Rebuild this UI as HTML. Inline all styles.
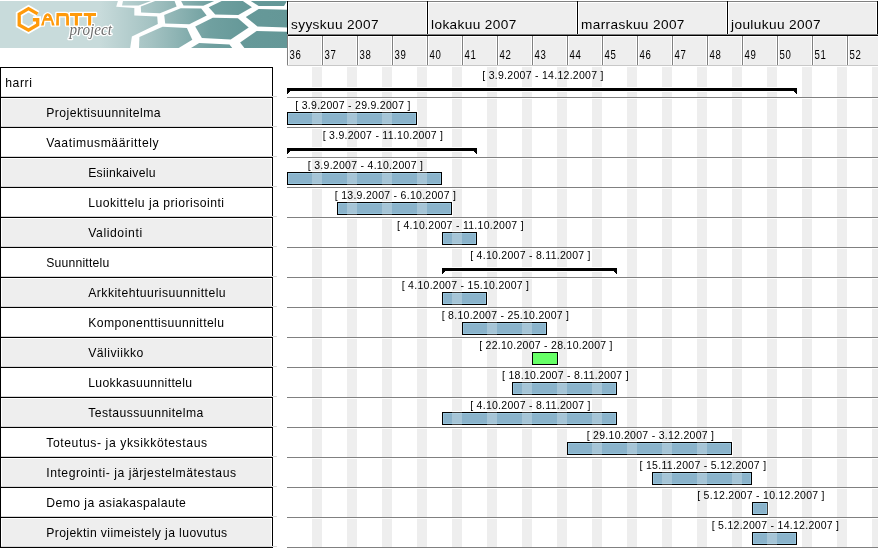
<!DOCTYPE html>
<html><head><meta charset="utf-8"><style>
html,body{margin:0;padding:0;background:#fff;width:878px;height:549px;overflow:hidden}
svg text{font-family:"Liberation Sans",sans-serif;fill:#000}
.lbl{font-size:10.5px;letter-spacing:0.28px}
.mon{font-size:13.6px;letter-spacing:0.4px}
.wk{font-size:9.6px;letter-spacing:0.8px}
.nm{font-size:12.2px}
</style></head><body>
<svg width="878" height="549" viewBox="0 0 878 549" style="display:block;will-change:transform">
<g shape-rendering="crispEdges">

</g>

<svg x="0" y="0" width="287" height="48" viewBox="0 0 287 48">
 <defs>
  <linearGradient id="bg" x1="0" y1="0" x2="287" y2="0" gradientUnits="userSpaceOnUse">
   <stop offset="0" stop-color="#c8dbdb"/>
   <stop offset="0.348" stop-color="#c8dbdb"/>
   <stop offset="0.523" stop-color="#a5c3c3"/>
   <stop offset="0.732" stop-color="#70a0a0"/>
   <stop offset="0.85" stop-color="#669999"/>
   <stop offset="1" stop-color="#649797"/>
  </linearGradient>
 </defs>
 <rect x="0" y="1" width="287" height="47" fill="#ffffff"/>
 <g fill="url(#bg)">
  <polygon points="0,1 117.9,1 116.2,6.8 134.3,7.9 134.3,15.4 157.2,16.4 157.8,24.1 131.9,36.4 130.2,48 0,48"/>
  <polygon points="123,1 151,1 138.7,5.5 122,5.5"/>
  <polygon points="140.8,6.5 155.1,1 174.6,1 176.6,6.5 159.9,13.3 141.1,12.6"/>
  <polygon points="164.2,15 180.7,8.2 201.2,8.5 206.7,15.4 189.3,24.2 165.2,23.4"/>
  <polygon points="181.1,1 214.2,1 203.3,5.8 183.5,5.5"/>
  <polygon points="208.7,7.2 221.7,1 242.9,1 251.9,7.2 238.3,15.1 215.2,14.4"/>
  <polygon points="250.8,1 287,1 284,6.1 258.7,6.1"/>
  <polygon points="245.8,16.9 258.7,9 287,9.7 287,27.6 257.5,26.5"/>
  <polygon points="139.4,37.1 162.6,26.8 186.9,28.1 192.3,39.8 178.7,48 139,48"/>
  <polygon points="195.2,26.4 212.8,17.8 237.9,18.3 248.7,27.6 230.7,39.4 201.9,38.1"/>
  <polygon points="191,48 199.2,42.9 229.5,44.6 232.2,48"/>
  <polygon points="240.1,42.6 256.6,31.1 287,31.8 287,48 244.4,48"/>
 </g>
 <g fill="none" stroke="#ffffff" stroke-width="6.8" stroke-linejoin="miter" stroke-miterlimit="3">
  <path d="M37.6,13.9 L28.5,8.6 L19.2,14.1 L19.2,25 L28.5,30.1 L37.7,24.8 L37.7,19.75 L32.9,19.75"/>
 </g>
 <path d="M37.6,13.9 L28.5,8.6 L19.2,14.1 L19.2,25 L28.5,30.1 L37.7,24.8 L37.7,19.75 L32.9,19.75" fill="none" stroke="#ff9a0a" stroke-width="3.3" stroke-linejoin="miter"/>
 <g fill="#ff9a0a" stroke="#ffffff" stroke-width="2.6" stroke-linejoin="round" style="paint-order:stroke">
  <path fill-rule="evenodd" d="M41,25.5 L44.4,15.4 Q47.7,11.3 51.1,15.4 L54.7,25.5 L51.9,25.5 L51.1,20.8 L44.4,20.8 L43.7,25.5 Z M46.1,18 L47.7,15.5 L49.3,18 Z"/>
  <path d="M56.1,25.5 L56.5,13 L65.3,13 Q68.8,13 68.9,16.2 L69,25.5 L66.2,25.5 L66.1,16.2 L58.9,16.2 L58.9,25.5 Z"/>
  <path d="M70,13 L82.2,13 L82.2,15.9 L77.9,15.9 L77.9,25.5 L74.8,25.5 L74.8,15.9 L70,15.9 Z"/>
  <path d="M83.8,13 L96,13 L96,15.9 L91.2,15.9 L91.2,25.5 L88.1,25.5 L88.1,15.9 L83.8,15.9 Z"/>
 </g>
 <text x="69.5" y="35.3" transform="translate(69.5,35.3) scale(0.95,1) translate(-69.5,-35.3)" style="font-family:'Liberation Serif',serif;font-style:italic;font-size:16px;fill:#6e6e6e;stroke:#ffffff;stroke-width:2.6px;paint-order:stroke;stroke-linejoin:round">project</text>
</svg>

<g shape-rendering="crispEdges">
<rect x="287" y="1" width="591" height="1" fill="#808080"/>
<rect x="287" y="2" width="591" height="32" fill="#ffffff"/>
<rect x="289" y="3" width="137" height="31" fill="#eeeeee"/>
<rect x="429" y="3" width="147" height="31" fill="#eeeeee"/>
<rect x="579" y="3" width="147" height="31" fill="#eeeeee"/>
<rect x="729" y="3" width="147" height="31" fill="#eeeeee"/>
<rect x="287" y="1" width="1" height="33" fill="#000000"/>
<rect x="427" y="1" width="1" height="33" fill="#000000"/>
<rect x="577" y="1" width="1" height="33" fill="#000000"/>
<rect x="727" y="1" width="1" height="33" fill="#000000"/>
<rect x="877" y="1" width="1" height="34" fill="#000000"/>
<rect x="287" y="34" width="591" height="1" fill="#808080"/>
<rect x="288" y="35" width="590" height="1" fill="#000000"/>
<rect x="287" y="36" width="591" height="29" fill="#ffffff"/>
<rect x="289" y="37" width="32" height="28" fill="#eeeeee"/>
<rect x="324" y="37" width="32" height="28" fill="#eeeeee"/>
<rect x="359" y="37" width="32" height="28" fill="#eeeeee"/>
<rect x="394" y="37" width="32" height="28" fill="#eeeeee"/>
<rect x="429" y="37" width="32" height="28" fill="#eeeeee"/>
<rect x="464" y="37" width="32" height="28" fill="#eeeeee"/>
<rect x="499" y="37" width="32" height="28" fill="#eeeeee"/>
<rect x="534" y="37" width="32" height="28" fill="#eeeeee"/>
<rect x="569" y="37" width="32" height="28" fill="#eeeeee"/>
<rect x="604" y="37" width="32" height="28" fill="#eeeeee"/>
<rect x="639" y="37" width="32" height="28" fill="#eeeeee"/>
<rect x="674" y="37" width="32" height="28" fill="#eeeeee"/>
<rect x="709" y="37" width="32" height="28" fill="#eeeeee"/>
<rect x="744" y="37" width="32" height="28" fill="#eeeeee"/>
<rect x="779" y="37" width="32" height="28" fill="#eeeeee"/>
<rect x="814" y="37" width="32" height="28" fill="#eeeeee"/>
<rect x="849" y="37" width="32" height="28" fill="#eeeeee"/>
<rect x="287" y="34" width="1" height="32" fill="#808080"/>
<rect x="322" y="36" width="1" height="30" fill="#808080"/>
<rect x="357" y="36" width="1" height="30" fill="#808080"/>
<rect x="392" y="36" width="1" height="30" fill="#808080"/>
<rect x="427" y="36" width="1" height="30" fill="#808080"/>
<rect x="462" y="36" width="1" height="30" fill="#808080"/>
<rect x="497" y="36" width="1" height="30" fill="#808080"/>
<rect x="532" y="36" width="1" height="30" fill="#808080"/>
<rect x="567" y="36" width="1" height="30" fill="#808080"/>
<rect x="602" y="36" width="1" height="30" fill="#808080"/>
<rect x="637" y="36" width="1" height="30" fill="#808080"/>
<rect x="672" y="36" width="1" height="30" fill="#808080"/>
<rect x="707" y="36" width="1" height="30" fill="#808080"/>
<rect x="742" y="36" width="1" height="30" fill="#808080"/>
<rect x="777" y="36" width="1" height="30" fill="#808080"/>
<rect x="812" y="36" width="1" height="30" fill="#808080"/>
<rect x="847" y="36" width="1" height="30" fill="#808080"/>
<rect x="287" y="65" width="591" height="1" fill="#c8c8c8"/>
<rect x="312" y="67" width="10" height="481" fill="#eeeeee"/>
<rect x="347" y="67" width="10" height="481" fill="#eeeeee"/>
<rect x="382" y="67" width="10" height="481" fill="#eeeeee"/>
<rect x="417" y="67" width="10" height="481" fill="#eeeeee"/>
<rect x="452" y="67" width="10" height="481" fill="#eeeeee"/>
<rect x="487" y="67" width="10" height="481" fill="#eeeeee"/>
<rect x="522" y="67" width="10" height="481" fill="#eeeeee"/>
<rect x="557" y="67" width="10" height="481" fill="#eeeeee"/>
<rect x="592" y="67" width="10" height="481" fill="#eeeeee"/>
<rect x="627" y="67" width="10" height="481" fill="#eeeeee"/>
<rect x="662" y="67" width="10" height="481" fill="#eeeeee"/>
<rect x="697" y="67" width="10" height="481" fill="#eeeeee"/>
<rect x="732" y="67" width="10" height="481" fill="#eeeeee"/>
<rect x="767" y="67" width="10" height="481" fill="#eeeeee"/>
<rect x="802" y="67" width="10" height="481" fill="#eeeeee"/>
<rect x="837" y="67" width="10" height="481" fill="#eeeeee"/>
<rect x="872" y="67" width="10" height="481" fill="#eeeeee"/>
<rect x="287" y="87" width="510" height="5" fill="#ffffff"/>
<rect x="287" y="98" width="591" height="1" fill="#ffffff"/>
<rect x="287" y="111" width="131" height="16" fill="#ffffff"/>
<rect x="287" y="128" width="591" height="1" fill="#ffffff"/>
<rect x="287" y="147" width="190" height="5" fill="#ffffff"/>
<rect x="287" y="158" width="591" height="1" fill="#ffffff"/>
<rect x="287" y="171" width="156" height="16" fill="#ffffff"/>
<rect x="287" y="188" width="591" height="1" fill="#ffffff"/>
<rect x="337" y="201" width="116" height="16" fill="#ffffff"/>
<rect x="287" y="218" width="591" height="1" fill="#ffffff"/>
<rect x="442" y="231" width="36" height="16" fill="#ffffff"/>
<rect x="287" y="248" width="591" height="1" fill="#ffffff"/>
<rect x="442" y="267" width="175" height="5" fill="#ffffff"/>
<rect x="287" y="278" width="591" height="1" fill="#ffffff"/>
<rect x="442" y="291" width="46" height="16" fill="#ffffff"/>
<rect x="287" y="308" width="591" height="1" fill="#ffffff"/>
<rect x="462" y="321" width="86" height="16" fill="#ffffff"/>
<rect x="287" y="338" width="591" height="1" fill="#ffffff"/>
<rect x="532" y="351" width="27" height="16" fill="#ffffff"/>
<rect x="287" y="368" width="591" height="1" fill="#ffffff"/>
<rect x="512" y="381" width="106" height="16" fill="#ffffff"/>
<rect x="287" y="398" width="591" height="1" fill="#ffffff"/>
<rect x="442" y="411" width="176" height="16" fill="#ffffff"/>
<rect x="287" y="428" width="591" height="1" fill="#ffffff"/>
<rect x="567" y="441" width="166" height="16" fill="#ffffff"/>
<rect x="287" y="458" width="591" height="1" fill="#ffffff"/>
<rect x="652" y="471" width="101" height="16" fill="#ffffff"/>
<rect x="287" y="488" width="591" height="1" fill="#ffffff"/>
<rect x="752" y="501" width="17" height="16" fill="#ffffff"/>
<rect x="287" y="518" width="591" height="1" fill="#ffffff"/>
<rect x="752" y="531" width="46" height="16" fill="#ffffff"/>
<rect x="287" y="97" width="591" height="1" fill="#808080"/>
<rect x="287" y="127" width="591" height="1" fill="#808080"/>
<rect x="287" y="157" width="591" height="1" fill="#808080"/>
<rect x="287" y="187" width="591" height="1" fill="#808080"/>
<rect x="287" y="217" width="591" height="1" fill="#808080"/>
<rect x="287" y="247" width="591" height="1" fill="#808080"/>
<rect x="287" y="277" width="591" height="1" fill="#808080"/>
<rect x="287" y="307" width="591" height="1" fill="#808080"/>
<rect x="287" y="337" width="591" height="1" fill="#808080"/>
<rect x="287" y="367" width="591" height="1" fill="#808080"/>
<rect x="287" y="397" width="591" height="1" fill="#808080"/>
<rect x="287" y="427" width="591" height="1" fill="#808080"/>
<rect x="287" y="457" width="591" height="1" fill="#808080"/>
<rect x="287" y="487" width="591" height="1" fill="#808080"/>
<rect x="287" y="517" width="591" height="1" fill="#808080"/>
<rect x="287" y="547" width="591" height="1" fill="#808080"/>
<rect x="287" y="88" width="510" height="3" fill="#000000"/>
<rect x="287" y="91" width="3" height="1" fill="#000000"/>
<rect x="794" y="91" width="3" height="1" fill="#000000"/>
<rect x="287" y="92" width="2" height="1" fill="#000000"/>
<rect x="795" y="92" width="2" height="1" fill="#000000"/>
<rect x="287" y="93" width="1" height="1" fill="#000000"/>
<rect x="796" y="93" width="1" height="1" fill="#000000"/>
<rect x="287" y="112" width="130" height="13" fill="#000000"/>
<rect x="288" y="113" width="128" height="11" fill="#96c4dc"/>
<rect x="289" y="114" width="126" height="9" fill="#8ab3cb"/>
<rect x="312" y="112" width="10" height="13" fill="#ffffff" fill-opacity="0.24"/>
<rect x="347" y="112" width="10" height="13" fill="#ffffff" fill-opacity="0.24"/>
<rect x="382" y="112" width="10" height="13" fill="#ffffff" fill-opacity="0.24"/>
<rect x="287" y="148" width="190" height="3" fill="#000000"/>
<rect x="287" y="151" width="3" height="1" fill="#000000"/>
<rect x="474" y="151" width="3" height="1" fill="#000000"/>
<rect x="287" y="152" width="2" height="1" fill="#000000"/>
<rect x="475" y="152" width="2" height="1" fill="#000000"/>
<rect x="287" y="153" width="1" height="1" fill="#000000"/>
<rect x="476" y="153" width="1" height="1" fill="#000000"/>
<rect x="287" y="172" width="155" height="13" fill="#000000"/>
<rect x="288" y="173" width="153" height="11" fill="#96c4dc"/>
<rect x="289" y="174" width="151" height="9" fill="#8ab3cb"/>
<rect x="312" y="172" width="10" height="13" fill="#ffffff" fill-opacity="0.24"/>
<rect x="347" y="172" width="10" height="13" fill="#ffffff" fill-opacity="0.24"/>
<rect x="382" y="172" width="10" height="13" fill="#ffffff" fill-opacity="0.24"/>
<rect x="417" y="172" width="10" height="13" fill="#ffffff" fill-opacity="0.24"/>
<rect x="337" y="202" width="115" height="13" fill="#000000"/>
<rect x="338" y="203" width="113" height="11" fill="#96c4dc"/>
<rect x="339" y="204" width="111" height="9" fill="#8ab3cb"/>
<rect x="347" y="202" width="10" height="13" fill="#ffffff" fill-opacity="0.24"/>
<rect x="382" y="202" width="10" height="13" fill="#ffffff" fill-opacity="0.24"/>
<rect x="417" y="202" width="10" height="13" fill="#ffffff" fill-opacity="0.24"/>
<rect x="442" y="232" width="35" height="13" fill="#000000"/>
<rect x="443" y="233" width="33" height="11" fill="#96c4dc"/>
<rect x="444" y="234" width="31" height="9" fill="#8ab3cb"/>
<rect x="452" y="232" width="10" height="13" fill="#ffffff" fill-opacity="0.24"/>
<rect x="442" y="268" width="175" height="3" fill="#000000"/>
<rect x="442" y="271" width="3" height="1" fill="#000000"/>
<rect x="614" y="271" width="3" height="1" fill="#000000"/>
<rect x="442" y="272" width="2" height="1" fill="#000000"/>
<rect x="615" y="272" width="2" height="1" fill="#000000"/>
<rect x="442" y="273" width="1" height="1" fill="#000000"/>
<rect x="616" y="273" width="1" height="1" fill="#000000"/>
<rect x="442" y="292" width="45" height="13" fill="#000000"/>
<rect x="443" y="293" width="43" height="11" fill="#96c4dc"/>
<rect x="444" y="294" width="41" height="9" fill="#8ab3cb"/>
<rect x="452" y="292" width="10" height="13" fill="#ffffff" fill-opacity="0.24"/>
<rect x="462" y="322" width="85" height="13" fill="#000000"/>
<rect x="463" y="323" width="83" height="11" fill="#96c4dc"/>
<rect x="464" y="324" width="81" height="9" fill="#8ab3cb"/>
<rect x="487" y="322" width="10" height="13" fill="#ffffff" fill-opacity="0.24"/>
<rect x="522" y="322" width="10" height="13" fill="#ffffff" fill-opacity="0.24"/>
<rect x="532" y="352" width="26" height="13" fill="#000000"/>
<rect x="533" y="353" width="24" height="11" fill="#66ff66"/>
<rect x="512" y="382" width="105" height="13" fill="#000000"/>
<rect x="513" y="383" width="103" height="11" fill="#96c4dc"/>
<rect x="514" y="384" width="101" height="9" fill="#8ab3cb"/>
<rect x="522" y="382" width="10" height="13" fill="#ffffff" fill-opacity="0.24"/>
<rect x="557" y="382" width="10" height="13" fill="#ffffff" fill-opacity="0.24"/>
<rect x="592" y="382" width="10" height="13" fill="#ffffff" fill-opacity="0.24"/>
<rect x="442" y="412" width="175" height="13" fill="#000000"/>
<rect x="443" y="413" width="173" height="11" fill="#96c4dc"/>
<rect x="444" y="414" width="171" height="9" fill="#8ab3cb"/>
<rect x="452" y="412" width="10" height="13" fill="#ffffff" fill-opacity="0.24"/>
<rect x="487" y="412" width="10" height="13" fill="#ffffff" fill-opacity="0.24"/>
<rect x="522" y="412" width="10" height="13" fill="#ffffff" fill-opacity="0.24"/>
<rect x="557" y="412" width="10" height="13" fill="#ffffff" fill-opacity="0.24"/>
<rect x="592" y="412" width="10" height="13" fill="#ffffff" fill-opacity="0.24"/>
<rect x="567" y="442" width="165" height="13" fill="#000000"/>
<rect x="568" y="443" width="163" height="11" fill="#96c4dc"/>
<rect x="569" y="444" width="161" height="9" fill="#8ab3cb"/>
<rect x="592" y="442" width="10" height="13" fill="#ffffff" fill-opacity="0.24"/>
<rect x="627" y="442" width="10" height="13" fill="#ffffff" fill-opacity="0.24"/>
<rect x="662" y="442" width="10" height="13" fill="#ffffff" fill-opacity="0.24"/>
<rect x="697" y="442" width="10" height="13" fill="#ffffff" fill-opacity="0.24"/>
<rect x="652" y="472" width="100" height="13" fill="#000000"/>
<rect x="653" y="473" width="98" height="11" fill="#96c4dc"/>
<rect x="654" y="474" width="96" height="9" fill="#8ab3cb"/>
<rect x="662" y="472" width="10" height="13" fill="#ffffff" fill-opacity="0.24"/>
<rect x="697" y="472" width="10" height="13" fill="#ffffff" fill-opacity="0.24"/>
<rect x="732" y="472" width="10" height="13" fill="#ffffff" fill-opacity="0.24"/>
<rect x="752" y="502" width="16" height="13" fill="#000000"/>
<rect x="753" y="503" width="14" height="11" fill="#96c4dc"/>
<rect x="754" y="504" width="12" height="9" fill="#8ab3cb"/>
<rect x="767" y="502" width="1" height="13" fill="#ffffff" fill-opacity="0.24"/>
<rect x="752" y="532" width="45" height="13" fill="#000000"/>
<rect x="753" y="533" width="43" height="11" fill="#96c4dc"/>
<rect x="754" y="534" width="41" height="9" fill="#8ab3cb"/>
<rect x="767" y="532" width="10" height="13" fill="#ffffff" fill-opacity="0.24"/>
</g>
<text x="543.0" y="79" class="lbl" text-anchor="middle">[ 3.9.2007 - 14.12.2007 ]</text>
<text x="353.0" y="109" class="lbl" text-anchor="middle">[ 3.9.2007 - 29.9.2007 ]</text>
<text x="383.0" y="139" class="lbl" text-anchor="middle">[ 3.9.2007 - 11.10.2007 ]</text>
<text x="365.5" y="169" class="lbl" text-anchor="middle">[ 3.9.2007 - 4.10.2007 ]</text>
<text x="395.5" y="199" class="lbl" text-anchor="middle">[ 13.9.2007 - 6.10.2007 ]</text>
<text x="460.5" y="229" class="lbl" text-anchor="middle">[ 4.10.2007 - 11.10.2007 ]</text>
<text x="530.5" y="259" class="lbl" text-anchor="middle">[ 4.10.2007 - 8.11.2007 ]</text>
<text x="465.5" y="289" class="lbl" text-anchor="middle">[ 4.10.2007 - 15.10.2007 ]</text>
<text x="505.5" y="319" class="lbl" text-anchor="middle">[ 8.10.2007 - 25.10.2007 ]</text>
<text x="546.0" y="349" class="lbl" text-anchor="middle">[ 22.10.2007 - 28.10.2007 ]</text>
<text x="565.5" y="379" class="lbl" text-anchor="middle">[ 18.10.2007 - 8.11.2007 ]</text>
<text x="530.5" y="409" class="lbl" text-anchor="middle">[ 4.10.2007 - 8.11.2007 ]</text>
<text x="650.5" y="439" class="lbl" text-anchor="middle">[ 29.10.2007 - 3.12.2007 ]</text>
<text x="703.0" y="469" class="lbl" text-anchor="middle">[ 15.11.2007 - 5.12.2007 ]</text>
<text x="761.0" y="499" class="lbl" text-anchor="middle">[ 5.12.2007 - 10.12.2007 ]</text>
<text x="775.5" y="529" class="lbl" text-anchor="middle">[ 5.12.2007 - 14.12.2007 ]</text>
<text x="291" y="29" class="mon">syyskuu 2007</text>
<text x="431" y="29" class="mon">lokakuu 2007</text>
<text x="581" y="29" class="mon">marraskuu 2007</text>
<text x="731" y="29" class="mon">joulukuu 2007</text>
<text x="289.4" y="58.7" class="wk" transform="translate(289.4,58.7) scale(1,1.25) translate(-289.4,-58.7)">36</text>
<text x="324.4" y="58.7" class="wk" transform="translate(324.4,58.7) scale(1,1.25) translate(-324.4,-58.7)">37</text>
<text x="359.4" y="58.7" class="wk" transform="translate(359.4,58.7) scale(1,1.25) translate(-359.4,-58.7)">38</text>
<text x="394.4" y="58.7" class="wk" transform="translate(394.4,58.7) scale(1,1.25) translate(-394.4,-58.7)">39</text>
<text x="429.4" y="58.7" class="wk" transform="translate(429.4,58.7) scale(1,1.25) translate(-429.4,-58.7)">40</text>
<text x="464.4" y="58.7" class="wk" transform="translate(464.4,58.7) scale(1,1.25) translate(-464.4,-58.7)">41</text>
<text x="499.4" y="58.7" class="wk" transform="translate(499.4,58.7) scale(1,1.25) translate(-499.4,-58.7)">42</text>
<text x="534.4" y="58.7" class="wk" transform="translate(534.4,58.7) scale(1,1.25) translate(-534.4,-58.7)">43</text>
<text x="569.4" y="58.7" class="wk" transform="translate(569.4,58.7) scale(1,1.25) translate(-569.4,-58.7)">44</text>
<text x="604.4" y="58.7" class="wk" transform="translate(604.4,58.7) scale(1,1.25) translate(-604.4,-58.7)">45</text>
<text x="639.4" y="58.7" class="wk" transform="translate(639.4,58.7) scale(1,1.25) translate(-639.4,-58.7)">46</text>
<text x="674.4" y="58.7" class="wk" transform="translate(674.4,58.7) scale(1,1.25) translate(-674.4,-58.7)">47</text>
<text x="709.4" y="58.7" class="wk" transform="translate(709.4,58.7) scale(1,1.25) translate(-709.4,-58.7)">48</text>
<text x="744.4" y="58.7" class="wk" transform="translate(744.4,58.7) scale(1,1.25) translate(-744.4,-58.7)">49</text>
<text x="779.4" y="58.7" class="wk" transform="translate(779.4,58.7) scale(1,1.25) translate(-779.4,-58.7)">50</text>
<text x="814.4" y="58.7" class="wk" transform="translate(814.4,58.7) scale(1,1.25) translate(-814.4,-58.7)">51</text>
<text x="849.4" y="58.7" class="wk" transform="translate(849.4,58.7) scale(1,1.25) translate(-849.4,-58.7)">52</text>
<g shape-rendering="crispEdges">
<rect x="0" y="67" width="273" height="1" fill="#000"/>
<rect x="1" y="98" width="271" height="29" fill="#ffffff"/>
<rect x="2" y="99" width="269" height="28" fill="#eeeeee"/>
<rect x="0" y="97" width="273" height="1" fill="#000"/>
<rect x="0" y="127" width="273" height="1" fill="#000"/>
<rect x="1" y="158" width="271" height="29" fill="#ffffff"/>
<rect x="2" y="159" width="269" height="28" fill="#eeeeee"/>
<rect x="0" y="157" width="273" height="1" fill="#000"/>
<rect x="0" y="187" width="273" height="1" fill="#000"/>
<rect x="1" y="218" width="271" height="29" fill="#ffffff"/>
<rect x="2" y="219" width="269" height="28" fill="#eeeeee"/>
<rect x="0" y="217" width="273" height="1" fill="#000"/>
<rect x="0" y="247" width="273" height="1" fill="#000"/>
<rect x="1" y="278" width="271" height="29" fill="#ffffff"/>
<rect x="2" y="279" width="269" height="28" fill="#eeeeee"/>
<rect x="0" y="277" width="273" height="1" fill="#000"/>
<rect x="0" y="307" width="273" height="1" fill="#000"/>
<rect x="1" y="338" width="271" height="29" fill="#ffffff"/>
<rect x="2" y="339" width="269" height="28" fill="#eeeeee"/>
<rect x="0" y="337" width="273" height="1" fill="#000"/>
<rect x="0" y="367" width="273" height="1" fill="#000"/>
<rect x="1" y="398" width="271" height="29" fill="#ffffff"/>
<rect x="2" y="399" width="269" height="28" fill="#eeeeee"/>
<rect x="0" y="397" width="273" height="1" fill="#000"/>
<rect x="0" y="427" width="273" height="1" fill="#000"/>
<rect x="1" y="458" width="271" height="29" fill="#ffffff"/>
<rect x="2" y="459" width="269" height="28" fill="#eeeeee"/>
<rect x="0" y="457" width="273" height="1" fill="#000"/>
<rect x="0" y="487" width="273" height="1" fill="#000"/>
<rect x="1" y="518" width="271" height="29" fill="#ffffff"/>
<rect x="2" y="519" width="269" height="28" fill="#eeeeee"/>
<rect x="0" y="517" width="273" height="1" fill="#000"/>
<rect x="0" y="547" width="273" height="1" fill="#000"/>
<rect x="0" y="67" width="1" height="481" fill="#000"/>
<rect x="272" y="67" width="1" height="481" fill="#000"/>
<rect x="1" y="96" width="276" height="1" fill="#d6d6d6"/>
<rect x="1" y="126" width="276" height="1" fill="#d6d6d6"/>
<rect x="1" y="156" width="276" height="1" fill="#d6d6d6"/>
<rect x="1" y="186" width="276" height="1" fill="#d6d6d6"/>
<rect x="1" y="216" width="276" height="1" fill="#d6d6d6"/>
<rect x="1" y="246" width="276" height="1" fill="#d6d6d6"/>
<rect x="1" y="276" width="276" height="1" fill="#d6d6d6"/>
<rect x="1" y="306" width="276" height="1" fill="#d6d6d6"/>
<rect x="1" y="336" width="276" height="1" fill="#d6d6d6"/>
<rect x="1" y="366" width="276" height="1" fill="#d6d6d6"/>
<rect x="1" y="396" width="276" height="1" fill="#d6d6d6"/>
<rect x="1" y="426" width="276" height="1" fill="#d6d6d6"/>
<rect x="1" y="456" width="276" height="1" fill="#d6d6d6"/>
<rect x="1" y="486" width="276" height="1" fill="#d6d6d6"/>
<rect x="1" y="516" width="276" height="1" fill="#d6d6d6"/>
<rect x="1" y="546" width="276" height="1" fill="#d6d6d6"/>
</g>
<text x="5.2" y="87" class="nm" textLength="26.8" lengthAdjust="spacing">harri</text>
<text x="46.2" y="117" class="nm" textLength="114.4" lengthAdjust="spacing">Projektisuunnitelma</text>
<text x="46.2" y="147" class="nm" textLength="112.4" lengthAdjust="spacing">Vaatimusmäärittely</text>
<text x="88.2" y="177" class="nm" textLength="67.3" lengthAdjust="spacing">Esiinkaivelu</text>
<text x="88.2" y="207" class="nm" textLength="135.8" lengthAdjust="spacing">Luokittelu ja priorisointi</text>
<text x="88.2" y="237" class="nm" textLength="53.9" lengthAdjust="spacing">Validointi</text>
<text x="46.2" y="267" class="nm" textLength="63.0" lengthAdjust="spacing">Suunnittelu</text>
<text x="88.2" y="297" class="nm" textLength="137.4" lengthAdjust="spacing">Arkkitehtuurisuunnittelu</text>
<text x="88.2" y="327" class="nm" textLength="135.8" lengthAdjust="spacing">Komponenttisuunnittelu</text>
<text x="88.2" y="357" class="nm" textLength="55.1" lengthAdjust="spacing">Väliviikko</text>
<text x="88.2" y="387" class="nm" textLength="103.9" lengthAdjust="spacing">Luokkasuunnittelu</text>
<text x="88.2" y="417" class="nm" textLength="115.1" lengthAdjust="spacing">Testaussuunnitelma</text>
<text x="46.2" y="447" class="nm" textLength="160.9" lengthAdjust="spacing">Toteutus- ja yksikkötestaus</text>
<text x="46.2" y="477" class="nm" textLength="189.9" lengthAdjust="spacing">Integrointi- ja järjestelmätestaus</text>
<text x="46.2" y="507" class="nm" textLength="139.6" lengthAdjust="spacing">Demo ja asiakaspalaute</text>
<text x="46.2" y="537" class="nm" textLength="181.0" lengthAdjust="spacing">Projektin viimeistely ja luovutus</text>
</svg>
</body></html>
